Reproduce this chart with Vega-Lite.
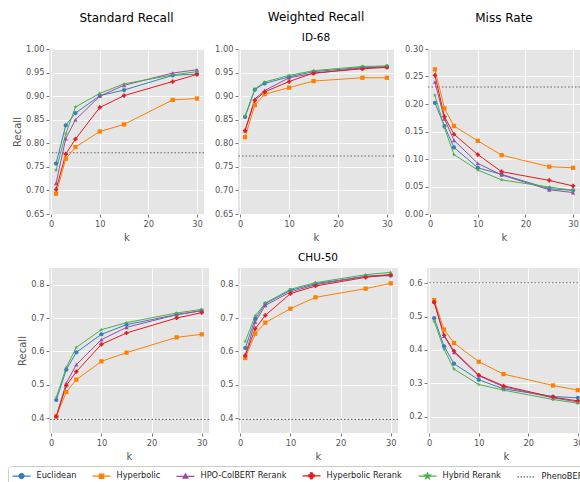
{
"$schema": "https://vega.github.io/schema/vega-lite/v6.json",
"padding": {"left": 7, "top": 10, "right": 5, "bottom": 5},
"datasets": {
"pheno": [
{"ds":"ID-68","m":"SR","method":"PhenoBERT","v":0.780},
{"ds":"ID-68","m":"WR","method":"PhenoBERT","v":0.773},
{"ds":"ID-68","m":"MR","method":"PhenoBERT","v":0.231},
{"ds":"CHU-50","m":"SR","method":"PhenoBERT","v":0.396},
{"ds":"CHU-50","m":"WR","method":"PhenoBERT","v":0.396},
{"ds":"CHU-50","m":"MR","method":"PhenoBERT","v":0.601}
],
"main": [
{"ds":"ID-68","m":"SR","method":"Euclidean","k":1,"v":0.757},{"ds":"ID-68","m":"SR","method":"Euclidean","k":3,"v":0.838},{"ds":"ID-68","m":"SR","method":"Euclidean","k":5,"v":0.864},{"ds":"ID-68","m":"SR","method":"Euclidean","k":10,"v":0.901},{"ds":"ID-68","m":"SR","method":"Euclidean","k":15,"v":0.913},{"ds":"ID-68","m":"SR","method":"Euclidean","k":25,"v":0.944},{"ds":"ID-68","m":"SR","method":"Euclidean","k":30,"v":0.947},
{"ds":"ID-68","m":"SR","method":"Hyperbolic","k":1,"v":0.693},{"ds":"ID-68","m":"SR","method":"Hyperbolic","k":3,"v":0.767},{"ds":"ID-68","m":"SR","method":"Hyperbolic","k":5,"v":0.792},{"ds":"ID-68","m":"SR","method":"Hyperbolic","k":10,"v":0.825},{"ds":"ID-68","m":"SR","method":"Hyperbolic","k":15,"v":0.840},{"ds":"ID-68","m":"SR","method":"Hyperbolic","k":25,"v":0.892},{"ds":"ID-68","m":"SR","method":"Hyperbolic","k":30,"v":0.895},
{"ds":"ID-68","m":"SR","method":"HPO-ColBERT Rerank","k":1,"v":0.715},{"ds":"ID-68","m":"SR","method":"HPO-ColBERT Rerank","k":3,"v":0.810},{"ds":"ID-68","m":"SR","method":"HPO-ColBERT Rerank","k":5,"v":0.850},{"ds":"ID-68","m":"SR","method":"HPO-ColBERT Rerank","k":10,"v":0.900},{"ds":"ID-68","m":"SR","method":"HPO-ColBERT Rerank","k":15,"v":0.923},{"ds":"ID-68","m":"SR","method":"HPO-ColBERT Rerank","k":25,"v":0.949},{"ds":"ID-68","m":"SR","method":"HPO-ColBERT Rerank","k":30,"v":0.956},
{"ds":"ID-68","m":"SR","method":"Hyperbolic Rerank","k":1,"v":0.702},{"ds":"ID-68","m":"SR","method":"Hyperbolic Rerank","k":3,"v":0.777},{"ds":"ID-68","m":"SR","method":"Hyperbolic Rerank","k":5,"v":0.809},{"ds":"ID-68","m":"SR","method":"Hyperbolic Rerank","k":10,"v":0.876},{"ds":"ID-68","m":"SR","method":"Hyperbolic Rerank","k":15,"v":0.901},{"ds":"ID-68","m":"SR","method":"Hyperbolic Rerank","k":25,"v":0.931},{"ds":"ID-68","m":"SR","method":"Hyperbolic Rerank","k":30,"v":0.946},
{"ds":"ID-68","m":"SR","method":"Hybrid Rerank","k":1,"v":0.743},{"ds":"ID-68","m":"SR","method":"Hybrid Rerank","k":3,"v":0.820},{"ds":"ID-68","m":"SR","method":"Hybrid Rerank","k":5,"v":0.877},{"ds":"ID-68","m":"SR","method":"Hybrid Rerank","k":10,"v":0.906},{"ds":"ID-68","m":"SR","method":"Hybrid Rerank","k":15,"v":0.926},{"ds":"ID-68","m":"SR","method":"Hybrid Rerank","k":25,"v":0.945},{"ds":"ID-68","m":"SR","method":"Hybrid Rerank","k":30,"v":0.952},
{"ds":"ID-68","m":"WR","method":"Euclidean","k":1,"v":0.856},{"ds":"ID-68","m":"WR","method":"Euclidean","k":3,"v":0.914},{"ds":"ID-68","m":"WR","method":"Euclidean","k":5,"v":0.927},{"ds":"ID-68","m":"WR","method":"Euclidean","k":10,"v":0.941},{"ds":"ID-68","m":"WR","method":"Euclidean","k":15,"v":0.952},{"ds":"ID-68","m":"WR","method":"Euclidean","k":25,"v":0.961},{"ds":"ID-68","m":"WR","method":"Euclidean","k":30,"v":0.963},
{"ds":"ID-68","m":"WR","method":"Hyperbolic","k":1,"v":0.813},{"ds":"ID-68","m":"WR","method":"Hyperbolic","k":3,"v":0.881},{"ds":"ID-68","m":"WR","method":"Hyperbolic","k":5,"v":0.904},{"ds":"ID-68","m":"WR","method":"Hyperbolic","k":10,"v":0.918},{"ds":"ID-68","m":"WR","method":"Hyperbolic","k":15,"v":0.932},{"ds":"ID-68","m":"WR","method":"Hyperbolic","k":25,"v":0.939},{"ds":"ID-68","m":"WR","method":"Hyperbolic","k":30,"v":0.939},
{"ds":"ID-68","m":"WR","method":"HPO-ColBERT Rerank","k":1,"v":0.827},{"ds":"ID-68","m":"WR","method":"HPO-ColBERT Rerank","k":3,"v":0.894},{"ds":"ID-68","m":"WR","method":"HPO-ColBERT Rerank","k":5,"v":0.912},{"ds":"ID-68","m":"WR","method":"HPO-ColBERT Rerank","k":10,"v":0.939},{"ds":"ID-68","m":"WR","method":"HPO-ColBERT Rerank","k":15,"v":0.948},{"ds":"ID-68","m":"WR","method":"HPO-ColBERT Rerank","k":25,"v":0.960},{"ds":"ID-68","m":"WR","method":"HPO-ColBERT Rerank","k":30,"v":0.962},
{"ds":"ID-68","m":"WR","method":"Hyperbolic Rerank","k":1,"v":0.827},{"ds":"ID-68","m":"WR","method":"Hyperbolic Rerank","k":3,"v":0.891},{"ds":"ID-68","m":"WR","method":"Hyperbolic Rerank","k":5,"v":0.909},{"ds":"ID-68","m":"WR","method":"Hyperbolic Rerank","k":10,"v":0.931},{"ds":"ID-68","m":"WR","method":"Hyperbolic Rerank","k":15,"v":0.949},{"ds":"ID-68","m":"WR","method":"Hyperbolic Rerank","k":25,"v":0.958},{"ds":"ID-68","m":"WR","method":"Hyperbolic Rerank","k":30,"v":0.961},
{"ds":"ID-68","m":"WR","method":"Hybrid Rerank","k":1,"v":0.858},{"ds":"ID-68","m":"WR","method":"Hybrid Rerank","k":3,"v":0.915},{"ds":"ID-68","m":"WR","method":"Hybrid Rerank","k":5,"v":0.930},{"ds":"ID-68","m":"WR","method":"Hybrid Rerank","k":10,"v":0.944},{"ds":"ID-68","m":"WR","method":"Hybrid Rerank","k":15,"v":0.954},{"ds":"ID-68","m":"WR","method":"Hybrid Rerank","k":25,"v":0.963},{"ds":"ID-68","m":"WR","method":"Hybrid Rerank","k":30,"v":0.964},
{"ds":"ID-68","m":"MR","method":"Euclidean","k":1,"v":0.202},{"ds":"ID-68","m":"MR","method":"Euclidean","k":3,"v":0.160},{"ds":"ID-68","m":"MR","method":"Euclidean","k":5,"v":0.121},{"ds":"ID-68","m":"MR","method":"Euclidean","k":10,"v":0.084},{"ds":"ID-68","m":"MR","method":"Euclidean","k":15,"v":0.072},{"ds":"ID-68","m":"MR","method":"Euclidean","k":25,"v":0.046},{"ds":"ID-68","m":"MR","method":"Euclidean","k":30,"v":0.043},
{"ds":"ID-68","m":"MR","method":"Hyperbolic","k":1,"v":0.263},{"ds":"ID-68","m":"MR","method":"Hyperbolic","k":3,"v":0.192},{"ds":"ID-68","m":"MR","method":"Hyperbolic","k":5,"v":0.160},{"ds":"ID-68","m":"MR","method":"Hyperbolic","k":10,"v":0.133},{"ds":"ID-68","m":"MR","method":"Hyperbolic","k":15,"v":0.107},{"ds":"ID-68","m":"MR","method":"Hyperbolic","k":25,"v":0.086},{"ds":"ID-68","m":"MR","method":"Hyperbolic","k":30,"v":0.084},
{"ds":"ID-68","m":"MR","method":"HPO-ColBERT Rerank","k":1,"v":0.240},{"ds":"ID-68","m":"MR","method":"HPO-ColBERT Rerank","k":3,"v":0.173},{"ds":"ID-68","m":"MR","method":"HPO-ColBERT Rerank","k":5,"v":0.134},{"ds":"ID-68","m":"MR","method":"HPO-ColBERT Rerank","k":10,"v":0.092},{"ds":"ID-68","m":"MR","method":"HPO-ColBERT Rerank","k":15,"v":0.071},{"ds":"ID-68","m":"MR","method":"HPO-ColBERT Rerank","k":25,"v":0.044},{"ds":"ID-68","m":"MR","method":"HPO-ColBERT Rerank","k":30,"v":0.039},
{"ds":"ID-68","m":"MR","method":"Hyperbolic Rerank","k":1,"v":0.252},{"ds":"ID-68","m":"MR","method":"Hyperbolic Rerank","k":3,"v":0.177},{"ds":"ID-68","m":"MR","method":"Hyperbolic Rerank","k":5,"v":0.145},{"ds":"ID-68","m":"MR","method":"Hyperbolic Rerank","k":10,"v":0.108},{"ds":"ID-68","m":"MR","method":"Hyperbolic Rerank","k":15,"v":0.077},{"ds":"ID-68","m":"MR","method":"Hyperbolic Rerank","k":25,"v":0.061},{"ds":"ID-68","m":"MR","method":"Hyperbolic Rerank","k":30,"v":0.051},
{"ds":"ID-68","m":"MR","method":"Hybrid Rerank","k":1,"v":0.216},{"ds":"ID-68","m":"MR","method":"Hybrid Rerank","k":3,"v":0.157},{"ds":"ID-68","m":"MR","method":"Hybrid Rerank","k":5,"v":0.108},{"ds":"ID-68","m":"MR","method":"Hybrid Rerank","k":10,"v":0.080},{"ds":"ID-68","m":"MR","method":"Hybrid Rerank","k":15,"v":0.062},{"ds":"ID-68","m":"MR","method":"Hybrid Rerank","k":25,"v":0.049},{"ds":"ID-68","m":"MR","method":"Hybrid Rerank","k":30,"v":0.043},
{"ds":"CHU-50","m":"SR","method":"Euclidean","k":1,"v":0.454},{"ds":"CHU-50","m":"SR","method":"Euclidean","k":3,"v":0.545},{"ds":"CHU-50","m":"SR","method":"Euclidean","k":5,"v":0.597},{"ds":"CHU-50","m":"SR","method":"Euclidean","k":10,"v":0.651},{"ds":"CHU-50","m":"SR","method":"Euclidean","k":15,"v":0.680},{"ds":"CHU-50","m":"SR","method":"Euclidean","k":25,"v":0.710},{"ds":"CHU-50","m":"SR","method":"Euclidean","k":30,"v":0.722},
{"ds":"CHU-50","m":"SR","method":"Hyperbolic","k":1,"v":0.405},{"ds":"CHU-50","m":"SR","method":"Hyperbolic","k":3,"v":0.478},{"ds":"CHU-50","m":"SR","method":"Hyperbolic","k":5,"v":0.515},{"ds":"CHU-50","m":"SR","method":"Hyperbolic","k":10,"v":0.570},{"ds":"CHU-50","m":"SR","method":"Hyperbolic","k":15,"v":0.596},{"ds":"CHU-50","m":"SR","method":"Hyperbolic","k":25,"v":0.642},{"ds":"CHU-50","m":"SR","method":"Hyperbolic","k":30,"v":0.651},
{"ds":"CHU-50","m":"SR","method":"HPO-ColBERT Rerank","k":1,"v":0.405},{"ds":"CHU-50","m":"SR","method":"HPO-ColBERT Rerank","k":3,"v":0.505},{"ds":"CHU-50","m":"SR","method":"HPO-ColBERT Rerank","k":5,"v":0.560},{"ds":"CHU-50","m":"SR","method":"HPO-ColBERT Rerank","k":10,"v":0.635},{"ds":"CHU-50","m":"SR","method":"HPO-ColBERT Rerank","k":15,"v":0.672},{"ds":"CHU-50","m":"SR","method":"HPO-ColBERT Rerank","k":25,"v":0.710},{"ds":"CHU-50","m":"SR","method":"HPO-ColBERT Rerank","k":30,"v":0.722},
{"ds":"CHU-50","m":"SR","method":"Hyperbolic Rerank","k":1,"v":0.405},{"ds":"CHU-50","m":"SR","method":"Hyperbolic Rerank","k":3,"v":0.497},{"ds":"CHU-50","m":"SR","method":"Hyperbolic Rerank","k":5,"v":0.539},{"ds":"CHU-50","m":"SR","method":"Hyperbolic Rerank","k":10,"v":0.621},{"ds":"CHU-50","m":"SR","method":"Hyperbolic Rerank","k":15,"v":0.655},{"ds":"CHU-50","m":"SR","method":"Hyperbolic Rerank","k":25,"v":0.700},{"ds":"CHU-50","m":"SR","method":"Hyperbolic Rerank","k":30,"v":0.716},
{"ds":"CHU-50","m":"SR","method":"Hybrid Rerank","k":1,"v":0.462},{"ds":"CHU-50","m":"SR","method":"Hybrid Rerank","k":3,"v":0.552},{"ds":"CHU-50","m":"SR","method":"Hybrid Rerank","k":5,"v":0.612},{"ds":"CHU-50","m":"SR","method":"Hybrid Rerank","k":10,"v":0.665},{"ds":"CHU-50","m":"SR","method":"Hybrid Rerank","k":15,"v":0.686},{"ds":"CHU-50","m":"SR","method":"Hybrid Rerank","k":25,"v":0.715},{"ds":"CHU-50","m":"SR","method":"Hybrid Rerank","k":30,"v":0.726},
{"ds":"CHU-50","m":"WR","method":"Euclidean","k":1,"v":0.610},{"ds":"CHU-50","m":"WR","method":"Euclidean","k":3,"v":0.698},{"ds":"CHU-50","m":"WR","method":"Euclidean","k":5,"v":0.743},{"ds":"CHU-50","m":"WR","method":"Euclidean","k":10,"v":0.783},{"ds":"CHU-50","m":"WR","method":"Euclidean","k":15,"v":0.803},{"ds":"CHU-50","m":"WR","method":"Euclidean","k":25,"v":0.825},{"ds":"CHU-50","m":"WR","method":"Euclidean","k":30,"v":0.827},
{"ds":"CHU-50","m":"WR","method":"Hyperbolic","k":1,"v":0.580},{"ds":"CHU-50","m":"WR","method":"Hyperbolic","k":3,"v":0.653},{"ds":"CHU-50","m":"WR","method":"Hyperbolic","k":5,"v":0.686},{"ds":"CHU-50","m":"WR","method":"Hyperbolic","k":10,"v":0.728},{"ds":"CHU-50","m":"WR","method":"Hyperbolic","k":15,"v":0.762},{"ds":"CHU-50","m":"WR","method":"Hyperbolic","k":25,"v":0.788},{"ds":"CHU-50","m":"WR","method":"Hyperbolic","k":30,"v":0.804},
{"ds":"CHU-50","m":"WR","method":"HPO-ColBERT Rerank","k":1,"v":0.590},{"ds":"CHU-50","m":"WR","method":"HPO-ColBERT Rerank","k":3,"v":0.688},{"ds":"CHU-50","m":"WR","method":"HPO-ColBERT Rerank","k":5,"v":0.738},{"ds":"CHU-50","m":"WR","method":"HPO-ColBERT Rerank","k":10,"v":0.778},{"ds":"CHU-50","m":"WR","method":"HPO-ColBERT Rerank","k":15,"v":0.800},{"ds":"CHU-50","m":"WR","method":"HPO-ColBERT Rerank","k":25,"v":0.825},{"ds":"CHU-50","m":"WR","method":"HPO-ColBERT Rerank","k":30,"v":0.830},
{"ds":"CHU-50","m":"WR","method":"Hyperbolic Rerank","k":1,"v":0.587},{"ds":"CHU-50","m":"WR","method":"Hyperbolic Rerank","k":3,"v":0.668},{"ds":"CHU-50","m":"WR","method":"Hyperbolic Rerank","k":5,"v":0.708},{"ds":"CHU-50","m":"WR","method":"Hyperbolic Rerank","k":10,"v":0.773},{"ds":"CHU-50","m":"WR","method":"Hyperbolic Rerank","k":15,"v":0.796},{"ds":"CHU-50","m":"WR","method":"Hyperbolic Rerank","k":25,"v":0.822},{"ds":"CHU-50","m":"WR","method":"Hyperbolic Rerank","k":30,"v":0.830},
{"ds":"CHU-50","m":"WR","method":"Hybrid Rerank","k":1,"v":0.630},{"ds":"CHU-50","m":"WR","method":"Hybrid Rerank","k":3,"v":0.707},{"ds":"CHU-50","m":"WR","method":"Hybrid Rerank","k":5,"v":0.745},{"ds":"CHU-50","m":"WR","method":"Hybrid Rerank","k":10,"v":0.786},{"ds":"CHU-50","m":"WR","method":"Hybrid Rerank","k":15,"v":0.806},{"ds":"CHU-50","m":"WR","method":"Hybrid Rerank","k":25,"v":0.830},{"ds":"CHU-50","m":"WR","method":"Hybrid Rerank","k":30,"v":0.837},
{"ds":"CHU-50","m":"MR","method":"Euclidean","k":1,"v":0.495},{"ds":"CHU-50","m":"MR","method":"Euclidean","k":3,"v":0.411},{"ds":"CHU-50","m":"MR","method":"Euclidean","k":5,"v":0.359},{"ds":"CHU-50","m":"MR","method":"Euclidean","k":10,"v":0.311},{"ds":"CHU-50","m":"MR","method":"Euclidean","k":15,"v":0.284},{"ds":"CHU-50","m":"MR","method":"Euclidean","k":25,"v":0.261},{"ds":"CHU-50","m":"MR","method":"Euclidean","k":30,"v":0.257},
{"ds":"CHU-50","m":"MR","method":"Hyperbolic","k":1,"v":0.549},{"ds":"CHU-50","m":"MR","method":"Hyperbolic","k":3,"v":0.461},{"ds":"CHU-50","m":"MR","method":"Hyperbolic","k":5,"v":0.421},{"ds":"CHU-50","m":"MR","method":"Hyperbolic","k":10,"v":0.365},{"ds":"CHU-50","m":"MR","method":"Hyperbolic","k":15,"v":0.328},{"ds":"CHU-50","m":"MR","method":"Hyperbolic","k":25,"v":0.294},{"ds":"CHU-50","m":"MR","method":"Hyperbolic","k":30,"v":0.280},
{"ds":"CHU-50","m":"MR","method":"HPO-ColBERT Rerank","k":1,"v":0.543},{"ds":"CHU-50","m":"MR","method":"HPO-ColBERT Rerank","k":3,"v":0.441},{"ds":"CHU-50","m":"MR","method":"HPO-ColBERT Rerank","k":5,"v":0.393},{"ds":"CHU-50","m":"MR","method":"HPO-ColBERT Rerank","k":10,"v":0.323},{"ds":"CHU-50","m":"MR","method":"HPO-ColBERT Rerank","k":15,"v":0.290},{"ds":"CHU-50","m":"MR","method":"HPO-ColBERT Rerank","k":25,"v":0.257},{"ds":"CHU-50","m":"MR","method":"HPO-ColBERT Rerank","k":30,"v":0.245},
{"ds":"CHU-50","m":"MR","method":"Hyperbolic Rerank","k":1,"v":0.543},{"ds":"CHU-50","m":"MR","method":"Hyperbolic Rerank","k":3,"v":0.444},{"ds":"CHU-50","m":"MR","method":"Hyperbolic Rerank","k":5,"v":0.397},{"ds":"CHU-50","m":"MR","method":"Hyperbolic Rerank","k":10,"v":0.325},{"ds":"CHU-50","m":"MR","method":"Hyperbolic Rerank","k":15,"v":0.293},{"ds":"CHU-50","m":"MR","method":"Hyperbolic Rerank","k":25,"v":0.259},{"ds":"CHU-50","m":"MR","method":"Hyperbolic Rerank","k":30,"v":0.248},
{"ds":"CHU-50","m":"MR","method":"Hybrid Rerank","k":1,"v":0.486},{"ds":"CHU-50","m":"MR","method":"Hybrid Rerank","k":3,"v":0.402},{"ds":"CHU-50","m":"MR","method":"Hybrid Rerank","k":5,"v":0.343},{"ds":"CHU-50","m":"MR","method":"Hybrid Rerank","k":10,"v":0.297},{"ds":"CHU-50","m":"MR","method":"Hybrid Rerank","k":15,"v":0.280},{"ds":"CHU-50","m":"MR","method":"Hybrid Rerank","k":25,"v":0.252},{"ds":"CHU-50","m":"MR","method":"Hybrid Rerank","k":30,"v":0.241}
]
},
"vconcat": [
{"spacing": 34, "bounds": "flush", "hconcat": [
{"width": 155, "height": 165, "title": {"text": "Standard Recall", "offset": 19.5},
 "layer": [
  {"data": {"name": "pheno"}, "transform": [{"filter": "datum.ds==='ID-68' && datum.m==='SR'"}], "mark": {"type": "rule", "strokeDash": [1.5, 2], "strokeWidth": 1.1},
   "encoding": {"y": {"field": "v", "type": "quantitative", "scale": {"domain": [0.65, 1.0], "nice": false, "zero": false}, "axis": {"values": [0.65,0.7,0.75,0.8,0.85,0.9,0.95,1.0], "tickCount": 20, "format": ".2f", "title": "Recall"}},
    "color": {"field": "method", "type": "nominal", "scale": {"domain": ["Euclidean","Hyperbolic","HPO-ColBERT Rerank","Hyperbolic Rerank","Hybrid Rerank","PhenoBERT"], "range": ["#377eb8","#ff7f00","#984ea3","#e41a1c","#4daf4a","#666666"]},
     "legend": {"title": null, "orient": "none", "legendX": -41, "legendY": 417, "direction": "horizontal", "columns": 6, "symbolSize": 100, "labelOffset": 13, "columnPadding": 13, "padding": 3.5, "strokeColor": "#cccccc", "fillColor": "white", "cornerRadius": 3, "labelFontSize": 8.2, "labelColor": "#222222", "symbolStrokeWidth": 1.2,
      "encode": {"symbols": {"update": {
        "shape": {"signal": "datum.value==='Euclidean' ? 'M-1,0H2.6M0.3,0A0.5,0.5 0 1,1 1.3,0A0.5,0.5 0 1,1 0.3,0Z' : datum.value==='Hyperbolic' ? 'M-1,0H2.6M0.36,-0.44H1.24V0.44H0.36Z' : datum.value==='HPO-ColBERT Rerank' ? 'M-1,0H2.6M0.8,-0.55L1.3,0.35L0.3,0.35Z' : datum.value==='Hyperbolic Rerank' ? 'M-1,0H2.6M0.6,-0.6H1V-0.2H1.4V0.2H1V0.6H0.6V0.2H0.2V-0.2H0.6Z' : datum.value==='Hybrid Rerank' ? 'M-1,0H2.6M0.8,-0.6L0.941,-0.194L1.371,-0.185L1.028,0.074L1.153,0.485L0.8,0.24L0.447,0.485L0.572,0.074L0.229,-0.185L0.659,-0.194Z' : 'M-1,0H2.6'"},
        "fill": {"signal": "datum.value==='PhenoBERT' ? 'transparent' : scale('color', datum.value)"},
        "stroke": {"signal": "scale('color', datum.value)"},
        "strokeDash": {"signal": "datum.value==='PhenoBERT' ? [1.5, 1.5] : [1, 0]"},
        "opacity": {"value": 1}}}}}}}},
  {"data": {"name": "main"}, "transform": [{"filter": "datum.ds==='ID-68' && datum.m==='SR'"}], "mark": {"type": "line", "strokeWidth": 1},
   "encoding": {"x": {"field": "k", "type": "quantitative", "scale": {"domain": [-0.45, 31.45], "nice": false, "zero": false}, "axis": {"values": [0,10,20,30], "tickCount": 20, "title": "k"}},
    "y": {"field": "v", "type": "quantitative", "scale": {"domain": [0.65, 1.0], "nice": false, "zero": false}, "axis": {"values": [0.65,0.7,0.75,0.8,0.85,0.9,0.95,1.0], "tickCount": 20, "format": ".2f", "title": "Recall"}},
    "color": {"field": "method", "type": "nominal"}}},
  {"data": {"name": "main"}, "transform": [{"filter": "datum.ds==='ID-68' && datum.m==='SR'"}], "mark": {"type": "point", "filled": true, "opacity": 1, "size": 18},
   "encoding": {"x": {"field": "k", "type": "quantitative"}, "y": {"field": "v", "type": "quantitative"}, "color": {"field": "method", "type": "nominal"},
    "shape": {"field": "method", "type": "nominal", "legend": null, "scale": {"domain": ["Euclidean","Hyperbolic","HPO-ColBERT Rerank","Hyperbolic Rerank","Hybrid Rerank"], "range": ["circle","square","triangle-up","cross","M0,-1L0.235,-0.324L0.951,-0.309L0.380,0.124L0.588,0.809L0,0.4L-0.588,0.809L-0.380,0.124L-0.951,-0.309L-0.235,-0.324Z"]}}}}
 ]},
{"width": 156, "height": 165, "title": {"text": "Weighted Recall", "subtitle": "ID-68", "offset": 0},
 "layer": [
  {"data": {"name": "pheno"}, "transform": [{"filter": "datum.ds==='ID-68' && datum.m==='WR'"}], "mark": {"type": "rule", "strokeDash": [1.5, 2], "strokeWidth": 1.1},
   "encoding": {"y": {"field": "v", "type": "quantitative", "scale": {"domain": [0.65, 1.0], "nice": false, "zero": false}, "axis": {"values": [0.65,0.7,0.75,0.8,0.85,0.9,0.95,1.0], "tickCount": 20, "format": ".2f", "title": null}}, "color": {"field": "method", "type": "nominal"}}},
  {"data": {"name": "main"}, "transform": [{"filter": "datum.ds==='ID-68' && datum.m==='WR'"}], "mark": {"type": "line", "strokeWidth": 1},
   "encoding": {"x": {"field": "k", "type": "quantitative", "scale": {"domain": [-0.45, 31.45], "nice": false, "zero": false}, "axis": {"values": [0,10,20,30], "tickCount": 20, "title": "k"}},
    "y": {"field": "v", "type": "quantitative", "scale": {"domain": [0.65, 1.0], "nice": false, "zero": false}, "axis": {"values": [0.65,0.7,0.75,0.8,0.85,0.9,0.95,1.0], "tickCount": 20, "format": ".2f", "title": null}},
    "color": {"field": "method", "type": "nominal"}}},
  {"data": {"name": "main"}, "transform": [{"filter": "datum.ds==='ID-68' && datum.m==='WR'"}], "mark": {"type": "point", "filled": true, "opacity": 1, "size": 18},
   "encoding": {"x": {"field": "k", "type": "quantitative"}, "y": {"field": "v", "type": "quantitative"}, "color": {"field": "method", "type": "nominal"}, "shape": {"field": "method", "type": "nominal", "legend": null}}}
 ]},
{"width": 152, "height": 165, "title": {"text": "Miss Rate", "offset": 19.5},
 "layer": [
  {"data": {"name": "pheno"}, "transform": [{"filter": "datum.ds==='ID-68' && datum.m==='MR'"}], "mark": {"type": "rule", "strokeDash": [1.5, 2], "strokeWidth": 1.1},
   "encoding": {"y": {"field": "v", "type": "quantitative", "scale": {"domain": [0, 0.3], "nice": false, "zero": false}, "axis": {"values": [0,0.05,0.1,0.15,0.2,0.25,0.3], "tickCount": 20, "format": ".2f", "title": null}}, "color": {"field": "method", "type": "nominal"}}},
  {"data": {"name": "main"}, "transform": [{"filter": "datum.ds==='ID-68' && datum.m==='MR'"}], "mark": {"type": "line", "strokeWidth": 1},
   "encoding": {"x": {"field": "k", "type": "quantitative", "scale": {"domain": [-0.45, 31.45], "nice": false, "zero": false}, "axis": {"values": [0,10,20,30], "tickCount": 20, "title": "k"}},
    "y": {"field": "v", "type": "quantitative", "scale": {"domain": [0, 0.3], "nice": false, "zero": false}, "axis": {"values": [0,0.05,0.1,0.15,0.2,0.25,0.3], "tickCount": 20, "format": ".2f", "title": null}},
    "color": {"field": "method", "type": "nominal"}}},
  {"data": {"name": "main"}, "transform": [{"filter": "datum.ds==='ID-68' && datum.m==='MR'"}], "mark": {"type": "point", "filled": true, "opacity": 1, "size": 18},
   "encoding": {"x": {"field": "k", "type": "quantitative"}, "y": {"field": "v", "type": "quantitative"}, "color": {"field": "method", "type": "nominal"}, "shape": {"field": "method", "type": "nominal", "legend": null}}}
 ]}
]},
{"spacing": 29, "bounds": "flush", "hconcat": [
{"width": 160, "height": 165,
 "layer": [
  {"data": {"name": "pheno"}, "transform": [{"filter": "datum.ds==='CHU-50' && datum.m==='SR'"}], "mark": {"type": "rule", "strokeDash": [1.5, 2], "strokeWidth": 1.1},
   "encoding": {"y": {"field": "v", "type": "quantitative", "scale": {"domain": [0.355, 0.85], "nice": false, "zero": false}, "axis": {"values": [0.4,0.5,0.6,0.7,0.8], "tickCount": 20, "format": ".1f", "title": "Recall"}}, "color": {"field": "method", "type": "nominal"}}},
  {"data": {"name": "main"}, "transform": [{"filter": "datum.ds==='CHU-50' && datum.m==='SR'"}], "mark": {"type": "line", "strokeWidth": 1},
   "encoding": {"x": {"field": "k", "type": "quantitative", "scale": {"domain": [-0.45, 31.45], "nice": false, "zero": false}, "axis": {"values": [0,10,20,30], "tickCount": 20, "title": "k"}},
    "y": {"field": "v", "type": "quantitative", "scale": {"domain": [0.355, 0.85], "nice": false, "zero": false}, "axis": {"values": [0.4,0.5,0.6,0.7,0.8], "tickCount": 20, "format": ".1f", "title": "Recall"}},
    "color": {"field": "method", "type": "nominal"}}},
  {"data": {"name": "main"}, "transform": [{"filter": "datum.ds==='CHU-50' && datum.m==='SR'"}], "mark": {"type": "point", "filled": true, "opacity": 1, "size": 18},
   "encoding": {"x": {"field": "k", "type": "quantitative"}, "y": {"field": "v", "type": "quantitative"}, "color": {"field": "method", "type": "nominal"}, "shape": {"field": "method", "type": "nominal", "legend": null}}}
 ]},
{"width": 160, "height": 165, "title": {"text": "CHU-50", "fontSize": 10.5, "offset": 5},
 "layer": [
  {"data": {"name": "pheno"}, "transform": [{"filter": "datum.ds==='CHU-50' && datum.m==='WR'"}], "mark": {"type": "rule", "strokeDash": [1.5, 2], "strokeWidth": 1.1},
   "encoding": {"y": {"field": "v", "type": "quantitative", "scale": {"domain": [0.355, 0.85], "nice": false, "zero": false}, "axis": {"values": [0.4,0.5,0.6,0.7,0.8], "tickCount": 20, "format": ".1f", "title": null}}, "color": {"field": "method", "type": "nominal"}}},
  {"data": {"name": "main"}, "transform": [{"filter": "datum.ds==='CHU-50' && datum.m==='WR'"}], "mark": {"type": "line", "strokeWidth": 1},
   "encoding": {"x": {"field": "k", "type": "quantitative", "scale": {"domain": [-0.45, 31.45], "nice": false, "zero": false}, "axis": {"values": [0,10,20,30], "tickCount": 20, "title": "k"}},
    "y": {"field": "v", "type": "quantitative", "scale": {"domain": [0.355, 0.85], "nice": false, "zero": false}, "axis": {"values": [0.4,0.5,0.6,0.7,0.8], "tickCount": 20, "format": ".1f", "title": null}},
    "color": {"field": "method", "type": "nominal"}}},
  {"data": {"name": "main"}, "transform": [{"filter": "datum.ds==='CHU-50' && datum.m==='WR'"}], "mark": {"type": "point", "filled": true, "opacity": 1, "size": 18},
   "encoding": {"x": {"field": "k", "type": "quantitative"}, "y": {"field": "v", "type": "quantitative"}, "color": {"field": "method", "type": "nominal"}, "shape": {"field": "method", "type": "nominal", "legend": null}}}
 ]},
{"width": 158, "height": 165,
 "layer": [
  {"data": {"name": "pheno"}, "transform": [{"filter": "datum.ds==='CHU-50' && datum.m==='MR'"}], "mark": {"type": "rule", "strokeDash": [1.5, 2], "strokeWidth": 1.1},
   "encoding": {"y": {"field": "v", "type": "quantitative", "scale": {"domain": [0.152, 0.645], "nice": false, "zero": false}, "axis": {"values": [0.2,0.3,0.4,0.5,0.6], "tickCount": 20, "format": ".1f", "title": null}}, "color": {"field": "method", "type": "nominal"}}},
  {"data": {"name": "main"}, "transform": [{"filter": "datum.ds==='CHU-50' && datum.m==='MR'"}], "mark": {"type": "line", "strokeWidth": 1},
   "encoding": {"x": {"field": "k", "type": "quantitative", "scale": {"domain": [-0.45, 31.45], "nice": false, "zero": false}, "axis": {"values": [0,10,20,30], "tickCount": 20, "title": "k"}},
    "y": {"field": "v", "type": "quantitative", "scale": {"domain": [0.152, 0.645], "nice": false, "zero": false}, "axis": {"values": [0.2,0.3,0.4,0.5,0.6], "tickCount": 20, "format": ".1f", "title": null}},
    "color": {"field": "method", "type": "nominal"}}},
  {"data": {"name": "main"}, "transform": [{"filter": "datum.ds==='CHU-50' && datum.m==='MR'"}], "mark": {"type": "point", "filled": true, "opacity": 1, "size": 18},
   "encoding": {"x": {"field": "k", "type": "quantitative"}, "y": {"field": "v", "type": "quantitative"}, "color": {"field": "method", "type": "nominal"}, "shape": {"field": "method", "type": "nominal", "legend": null}}}
 ]}
]}
],
"spacing": 9,
"config": {
 "font": "DejaVu Sans",
 "view": {"fill": "#E5E5E5", "stroke": null},
 "axis": {"domain": false, "grid": true, "gridColor": "white", "gridWidth": 0.8, "tickColor": "#555555", "tickSize": 3, "tickWidth": 0.8, "labelColor": "#555555", "labelFontSize": 8.3, "labelPadding": 2, "labelFlush": false, "labelOverlap": false, "titleColor": "#555555", "titleFontSize": 10, "titleFontWeight": "normal", "titlePadding": 3},
 "axisX": {"titlePadding": 5.5},
 "title": {"fontSize": 12, "fontWeight": "normal", "color": "black", "subtitleFontSize": 10.5, "subtitleColor": "black", "subtitlePadding": 9, "anchor": "middle"}
}
}
